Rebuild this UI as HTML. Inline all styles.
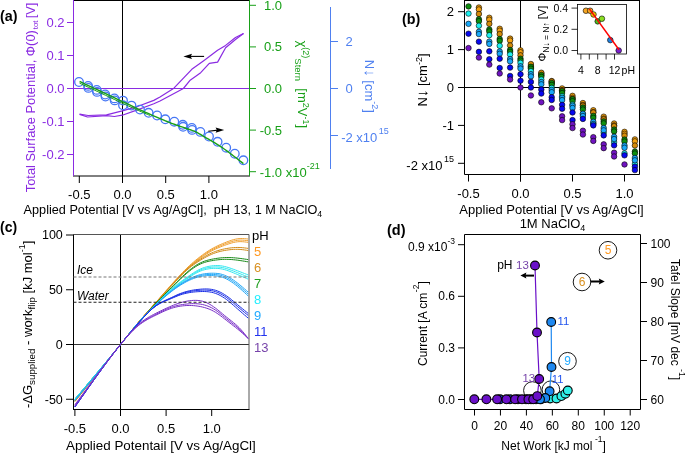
<!DOCTYPE html>
<html><head><meta charset="utf-8"><style>
html,body{margin:0;padding:0;background:#fff;}
svg{display:block;will-change:transform;}
text{font-family:"Liberation Sans", sans-serif;white-space:pre;}
</style></head><body>
<svg width="685" height="453" viewBox="0 0 685 453">
<rect width="685" height="453" fill="#fff"/>
<line x1="122.5" y1="0" x2="122.5" y2="176" stroke="#000" stroke-width="1"/>
<line x1="73.5" y1="88.5" x2="249.5" y2="88.5" stroke="#8a2be2" stroke-width="1"/>
<line x1="73.5" y1="0.5" x2="249.5" y2="0.5" stroke="#000" stroke-width="1"/>
<line x1="73.0" y1="176" x2="250.0" y2="176" stroke="#000" stroke-width="1"/>
<line x1="73.5" y1="0" x2="73.5" y2="176" stroke="#8a2be2" stroke-width="1"/>
<line x1="67" y1="22.5" x2="73.5" y2="22.5" stroke="#8a2be2" stroke-width="1"/>
<text x="64.5" y="27.0" font-size="13" fill="#8a2be2" text-anchor="end">0.2</text>
<line x1="67" y1="55.5" x2="73.5" y2="55.5" stroke="#8a2be2" stroke-width="1"/>
<text x="64.5" y="60.0" font-size="13" fill="#8a2be2" text-anchor="end">0.1</text>
<line x1="67" y1="88.5" x2="73.5" y2="88.5" stroke="#8a2be2" stroke-width="1"/>
<text x="64.5" y="93.0" font-size="13" fill="#8a2be2" text-anchor="end">0.0</text>
<line x1="67" y1="121.5" x2="73.5" y2="121.5" stroke="#8a2be2" stroke-width="1"/>
<text x="64.5" y="126.0" font-size="13" fill="#8a2be2" text-anchor="end">-0.1</text>
<line x1="67" y1="154.5" x2="73.5" y2="154.5" stroke="#8a2be2" stroke-width="1"/>
<text x="64.5" y="159.0" font-size="13" fill="#8a2be2" text-anchor="end">-0.2</text>
<line x1="79.3" y1="176" x2="79.3" y2="183" stroke="#000" stroke-width="1"/>
<text x="79.3" y="198.5" font-size="13" fill="#000" text-anchor="middle">-0.5</text>
<line x1="122.5" y1="176" x2="122.5" y2="183" stroke="#000" stroke-width="1"/>
<text x="122.5" y="198.5" font-size="13" fill="#000" text-anchor="middle">0.0</text>
<line x1="165.7" y1="176" x2="165.7" y2="183" stroke="#000" stroke-width="1"/>
<text x="165.7" y="198.5" font-size="13" fill="#000" text-anchor="middle">0.5</text>
<line x1="208.9" y1="176" x2="208.9" y2="183" stroke="#000" stroke-width="1"/>
<text x="208.9" y="198.5" font-size="13" fill="#000" text-anchor="middle">1.0</text>
<line x1="249.5" y1="0" x2="249.5" y2="176" stroke="#18a018" stroke-width="1"/>
<line x1="249.5" y1="5.299999999999997" x2="256" y2="5.299999999999997" stroke="#18a018" stroke-width="1"/>
<text x="264" y="9.799999999999997" font-size="13" fill="#18a018" text-anchor="start">1.0</text>
<line x1="249.5" y1="46.9" x2="256" y2="46.9" stroke="#18a018" stroke-width="1"/>
<text x="264" y="51.4" font-size="13" fill="#18a018" text-anchor="start">0.5</text>
<line x1="249.5" y1="88.5" x2="256" y2="88.5" stroke="#18a018" stroke-width="1"/>
<text x="264" y="93.0" font-size="13" fill="#18a018" text-anchor="start">0.0</text>
<line x1="249.5" y1="130.1" x2="256" y2="130.1" stroke="#18a018" stroke-width="1"/>
<text x="259.7" y="134.6" font-size="13" fill="#18a018" text-anchor="start">-0.5</text>
<line x1="249.5" y1="171.7" x2="256" y2="171.7" stroke="#18a018" stroke-width="1"/>
<text x="259.7" y="176.7" font-size="13" fill="#18a018" text-anchor="start">-1.0 x10<tspan dy="-7.5" font-size="9">-21</tspan></text>
<line x1="330.5" y1="7" x2="330.5" y2="169" stroke="#4f80f0" stroke-width="1"/>
<line x1="330.5" y1="41.5" x2="338" y2="41.5" stroke="#4f80f0" stroke-width="1"/>
<text x="345.5" y="46.0" font-size="13" fill="#4f80f0" text-anchor="start">2</text>
<line x1="330.5" y1="88.5" x2="338" y2="88.5" stroke="#4f80f0" stroke-width="1"/>
<text x="345.5" y="93.0" font-size="13" fill="#4f80f0" text-anchor="start">0</text>
<line x1="330.5" y1="135.5" x2="338" y2="135.5" stroke="#4f80f0" stroke-width="1"/>
<text x="341.2" y="141.5" font-size="13" fill="#4f80f0" text-anchor="start">-2 x10<tspan dx="1.5" dy="-8" font-size="9">15</tspan></text>
<polyline points="79.60,114.20 88.10,115.50 106.50,114.80 122.30,110.90 138.10,106.30 153.80,100.40 160.00,97.00 173.90,88.20 191.80,69.30 203.70,60.70 217.60,50.20 225.60,45.40 235.50,37.50 243.50,33.50" stroke="#8a2be2" stroke-width="1.2" fill="none" stroke-linejoin="round"/>
<polyline points="79.60,114.40 87.50,117.00 106.50,115.70 114.40,116.50 122.30,115.20 138.10,109.60 153.80,103.70 160.00,101.00 183.40,88.50 189.80,80.60 200.70,72.70 209.30,63.30 217.60,62.10 225.60,47.80 235.50,39.50 243.50,33.50" stroke="#8a2be2" stroke-width="1.2" fill="none" stroke-linejoin="round"/>
<circle cx="79.00" cy="82.00" r="4.3" fill="none" stroke="#4677f5" stroke-width="1.3"/>
<circle cx="88.10" cy="85.90" r="4.3" fill="none" stroke="#4677f5" stroke-width="1.3"/>
<circle cx="88.40" cy="87.90" r="4.3" fill="none" stroke="#4677f5" stroke-width="1.3"/>
<circle cx="96.70" cy="89.90" r="4.3" fill="none" stroke="#4677f5" stroke-width="1.3"/>
<circle cx="97.00" cy="91.90" r="4.3" fill="none" stroke="#4677f5" stroke-width="1.3"/>
<circle cx="105.20" cy="94.50" r="4.3" fill="none" stroke="#4677f5" stroke-width="1.3"/>
<circle cx="105.50" cy="96.50" r="4.3" fill="none" stroke="#4677f5" stroke-width="1.3"/>
<circle cx="114.40" cy="98.40" r="4.3" fill="none" stroke="#4677f5" stroke-width="1.3"/>
<circle cx="114.70" cy="100.40" r="4.3" fill="none" stroke="#4677f5" stroke-width="1.3"/>
<circle cx="123.00" cy="100.60" r="4.3" fill="none" stroke="#4677f5" stroke-width="1.3"/>
<circle cx="131.50" cy="105.60" r="4.3" fill="none" stroke="#4677f5" stroke-width="1.3"/>
<circle cx="140.00" cy="109.60" r="4.3" fill="none" stroke="#4677f5" stroke-width="1.3"/>
<circle cx="148.60" cy="112.80" r="4.3" fill="none" stroke="#4677f5" stroke-width="1.3"/>
<circle cx="157.10" cy="115.50" r="4.3" fill="none" stroke="#4677f5" stroke-width="1.3"/>
<circle cx="165.30" cy="119.30" r="4.3" fill="none" stroke="#4677f5" stroke-width="1.3"/>
<circle cx="174.30" cy="121.70" r="4.3" fill="none" stroke="#4677f5" stroke-width="1.3"/>
<circle cx="182.80" cy="124.80" r="4.3" fill="none" stroke="#4677f5" stroke-width="1.3"/>
<circle cx="183.10" cy="126.80" r="4.3" fill="none" stroke="#4677f5" stroke-width="1.3"/>
<circle cx="191.80" cy="127.90" r="4.3" fill="none" stroke="#4677f5" stroke-width="1.3"/>
<circle cx="192.10" cy="129.90" r="4.3" fill="none" stroke="#4677f5" stroke-width="1.3"/>
<circle cx="200.40" cy="131.90" r="4.3" fill="none" stroke="#4677f5" stroke-width="1.3"/>
<circle cx="209.00" cy="136.50" r="4.3" fill="none" stroke="#4677f5" stroke-width="1.3"/>
<circle cx="217.60" cy="141.80" r="4.3" fill="none" stroke="#4677f5" stroke-width="1.3"/>
<circle cx="226.20" cy="147.70" r="4.3" fill="none" stroke="#4677f5" stroke-width="1.3"/>
<circle cx="234.80" cy="153.70" r="4.3" fill="none" stroke="#4677f5" stroke-width="1.3"/>
<circle cx="243.40" cy="160.30" r="4.3" fill="none" stroke="#4677f5" stroke-width="1.3"/>
<circle cx="123.00" cy="105.30" r="4.3" fill="none" stroke="#4677f5" stroke-width="1.3"/>
<polyline points="79.60,81.50 81.16,82.22 83.20,83.18 85.64,84.31 88.36,85.58 91.26,86.92 94.24,88.31 97.19,89.69 100.00,91.00 102.79,92.31 105.71,93.67 108.70,95.08 111.71,96.49 114.70,97.90 117.61,99.27 120.39,100.58 123.00,101.80 125.39,102.93 127.60,103.98 129.68,104.97 131.69,105.92 133.67,106.86 135.68,107.81 137.77,108.78 140.00,109.80 142.40,110.89 144.95,112.03 147.58,113.20 150.24,114.37 152.87,115.52 155.41,116.63 157.80,117.66 160.00,118.60 161.97,119.43 163.78,120.19 165.44,120.87 167.02,121.51 168.54,122.12 170.05,122.71 171.59,123.29 173.20,123.90 174.89,124.52 176.61,125.13 178.36,125.73 180.09,126.32 181.80,126.89 183.45,127.45 185.03,127.99 186.50,128.50 187.85,128.97 189.11,129.39 190.28,129.78 191.41,130.16 192.50,130.54 193.58,130.94 194.67,131.39 195.80,131.90 196.96,132.48 198.14,133.11 199.31,133.78 200.48,134.47 201.64,135.18 202.79,135.88 203.91,136.56 205.00,137.20 206.05,137.80 207.05,138.37 208.03,138.92 208.99,139.46 209.96,140.01 210.94,140.57 211.95,141.17 213.00,141.80 214.10,142.47 215.24,143.16 216.40,143.88 217.57,144.62 218.76,145.37 219.95,146.14 221.13,146.92 222.30,147.70 223.44,148.48 224.54,149.26 225.64,150.04 226.74,150.84 227.86,151.67 229.01,152.53 230.22,153.44 231.50,154.40 232.94,155.49 234.56,156.74 236.29,158.07 238.03,159.42 239.69,160.71 241.20,161.89 242.46,162.87 243.40,163.60" stroke="#18a018" stroke-width="1.4" fill="none" stroke-linejoin="round"/>
<polyline points="79.60,83.20 81.16,83.92 83.20,84.88 85.64,86.01 88.36,87.28 91.26,88.62 94.24,90.01 97.19,91.39 100.00,92.70 102.79,94.01 105.71,95.38 108.70,96.79 111.71,98.21 114.70,99.62 117.61,100.99 120.39,102.29 123.00,103.50 125.46,104.63 127.84,105.72 130.12,106.76 132.31,107.76 134.40,108.70 136.38,109.59 138.25,110.42 140.00,111.20 141.65,111.93 143.23,112.61 144.70,113.25 146.06,113.83 147.29,114.35 148.37,114.81 149.28,115.19 150.00,115.50" stroke="#18a018" stroke-width="1.0" fill="none" stroke-linejoin="round"/>
<line x1="204.1" y1="56.4" x2="189.42000000000002" y2="56.4" stroke="#000" stroke-width="1.1"/>
<polygon points="183.4,56.4 192.0,53.8 190.71,56.4 192.0,59.0" fill="#000"/>
<line x1="208.3" y1="131.2" x2="218.17999999999998" y2="130.1" stroke="#000" stroke-width="1.1"/>
<polygon points="224.2,130.1 215.6,127.5 216.89,130.1 215.6,132.7" fill="#000"/>
<text x="0" y="21.4" font-size="14.3" fill="#000" text-anchor="start" font-weight="bold">(a)</text>
<text x="34.6" y="192.3" font-size="12.9" fill="#8a2be2" text-anchor="start" transform="rotate(-90 34.6 192.3)">Total Surface Potential, Φ(0)<tspan dx="0.8" dy="3" font-size="8">tot</tspan><tspan dx="-1.5" dy="-3"> [V]</tspan></text>
<text x="297.5" y="40.5" font-size="13" fill="#18a018" text-anchor="start" transform="rotate(90 297.5 40.5)">χ<tspan dy="-5" font-size="9">(2)</tspan><tspan dy="8" font-size="9.5">Stern</tspan><tspan dy="-3">  [m</tspan><tspan dy="-5" font-size="9">2</tspan><tspan dy="5">V</tspan><tspan dy="-5" font-size="9">-1</tspan><tspan dy="5">]</tspan></text>
<text x="365" y="59.8" font-size="13" fill="#4f80f0" text-anchor="start" transform="rotate(90 365 59.8)">N<tspan font-size="15">↓</tspan> [cm<tspan dy="-6.5" font-size="9">-2</tspan><tspan dy="6.5">]</tspan></text>
<text x="0" y="0" font-size="13" fill="#000" text-anchor="start" transform="translate(23.6 214.3) scale(0.976 1)">Applied Potential [V vs Ag/AgCl],  pH 13, 1 M NaClO<tspan dy="3" font-size="9">4</tspan></text>
<line x1="464.5" y1="87.5" x2="639.5" y2="87.5" stroke="#000" stroke-width="1"/>
<line x1="520.5" y1="0" x2="520.5" y2="181.5" stroke="#000" stroke-width="1"/>
<line x1="464.5" y1="0.5" x2="639.5" y2="0.5" stroke="#000" stroke-width="1"/>
<line x1="464.5" y1="0" x2="464.5" y2="174.5" stroke="#000" stroke-width="1"/>
<line x1="639.5" y1="0" x2="639.5" y2="174.5" stroke="#000" stroke-width="1"/>
<line x1="464.5" y1="174.5" x2="639.5" y2="174.5" stroke="#000" stroke-width="1"/>
<line x1="458" y1="11.700000000000003" x2="464.5" y2="11.700000000000003" stroke="#000" stroke-width="1"/>
<text x="454" y="16.200000000000003" font-size="13" fill="#000" text-anchor="end">2</text>
<line x1="458" y1="49.6" x2="464.5" y2="49.6" stroke="#000" stroke-width="1"/>
<text x="454" y="54.1" font-size="13" fill="#000" text-anchor="end">1</text>
<line x1="458" y1="87.5" x2="464.5" y2="87.5" stroke="#000" stroke-width="1"/>
<text x="454" y="92.0" font-size="13" fill="#000" text-anchor="end">0</text>
<line x1="458" y1="125.4" x2="464.5" y2="125.4" stroke="#000" stroke-width="1"/>
<text x="454" y="129.9" font-size="13" fill="#000" text-anchor="end">-1</text>
<line x1="458" y1="163.3" x2="464.5" y2="163.3" stroke="#000" stroke-width="1"/>
<text x="454" y="169.8" font-size="13" fill="#000" text-anchor="end">-2 x10<tspan dx="1.5" dy="-8" font-size="9">15</tspan></text>
<line x1="468.5" y1="174.5" x2="468.5" y2="181.5" stroke="#000" stroke-width="1"/>
<text x="468.5" y="197.5" font-size="13" fill="#000" text-anchor="middle">-0.5</text>
<line x1="520.5" y1="174.5" x2="520.5" y2="181.5" stroke="#000" stroke-width="1"/>
<text x="520.5" y="197.5" font-size="13" fill="#000" text-anchor="middle">0.0</text>
<line x1="572.5" y1="174.5" x2="572.5" y2="181.5" stroke="#000" stroke-width="1"/>
<text x="572.5" y="197.5" font-size="13" fill="#000" text-anchor="middle">0.5</text>
<line x1="624.5" y1="174.5" x2="624.5" y2="181.5" stroke="#000" stroke-width="1"/>
<text x="624.5" y="197.5" font-size="13" fill="#000" text-anchor="middle">1.0</text>
<text x="551.5" y="213.6" font-size="13" fill="#000" text-anchor="middle">Applied Potential [V vs Ag/AgCl]</text>
<text x="552.5" y="228.4" font-size="13" fill="#000" text-anchor="middle">1M NaClO<tspan dy="3" font-size="9">4</tspan></text>
<text x="402" y="24" font-size="14.3" fill="#000" text-anchor="start" font-weight="bold">(b)</text>
<text x="427" y="106.5" font-size="13" fill="#000" text-anchor="start" transform="rotate(-90 427 106.5)">N<tspan font-size="15">↓</tspan> [cm<tspan dy="-5" font-size="9">-2</tspan><tspan dy="5">]</tspan></text>
<circle cx="478.90" cy="7.53" r="2.75" fill="#f5a20f" stroke="#000" stroke-width="0.6"/>
<circle cx="478.90" cy="9.43" r="2.75" fill="#f5a20f" stroke="#000" stroke-width="0.6"/>
<circle cx="489.30" cy="17.76" r="2.75" fill="#f5a20f" stroke="#000" stroke-width="0.6"/>
<circle cx="489.30" cy="19.66" r="2.75" fill="#f5a20f" stroke="#000" stroke-width="0.6"/>
<circle cx="499.70" cy="28.76" r="2.75" fill="#f5a20f" stroke="#000" stroke-width="0.6"/>
<circle cx="499.70" cy="30.65" r="2.75" fill="#f5a20f" stroke="#000" stroke-width="0.6"/>
<circle cx="510.10" cy="38.61" r="2.75" fill="#f5a20f" stroke="#000" stroke-width="0.6"/>
<circle cx="510.10" cy="40.50" r="2.75" fill="#f5a20f" stroke="#000" stroke-width="0.6"/>
<circle cx="520.50" cy="50.36" r="2.75" fill="#f5a20f" stroke="#000" stroke-width="0.6"/>
<circle cx="520.50" cy="52.25" r="2.75" fill="#f5a20f" stroke="#000" stroke-width="0.6"/>
<circle cx="530.90" cy="65.90" r="2.75" fill="#f5a20f" stroke="#000" stroke-width="0.6"/>
<circle cx="530.90" cy="67.79" r="2.75" fill="#f5a20f" stroke="#000" stroke-width="0.6"/>
<circle cx="541.30" cy="73.48" r="2.75" fill="#f5a20f" stroke="#000" stroke-width="0.6"/>
<circle cx="541.30" cy="75.37" r="2.75" fill="#f5a20f" stroke="#000" stroke-width="0.6"/>
<circle cx="551.70" cy="81.06" r="2.75" fill="#f5a20f" stroke="#000" stroke-width="0.6"/>
<circle cx="551.70" cy="82.95" r="2.75" fill="#f5a20f" stroke="#000" stroke-width="0.6"/>
<circle cx="562.10" cy="88.45" r="2.75" fill="#f5a20f" stroke="#000" stroke-width="0.6"/>
<circle cx="562.10" cy="90.34" r="2.75" fill="#f5a20f" stroke="#000" stroke-width="0.6"/>
<circle cx="572.50" cy="95.84" r="2.75" fill="#f5a20f" stroke="#000" stroke-width="0.6"/>
<circle cx="572.50" cy="97.73" r="2.75" fill="#f5a20f" stroke="#000" stroke-width="0.6"/>
<circle cx="582.90" cy="103.04" r="2.75" fill="#f5a20f" stroke="#000" stroke-width="0.6"/>
<circle cx="582.90" cy="104.93" r="2.75" fill="#f5a20f" stroke="#000" stroke-width="0.6"/>
<circle cx="593.30" cy="110.24" r="2.75" fill="#f5a20f" stroke="#000" stroke-width="0.6"/>
<circle cx="593.30" cy="112.14" r="2.75" fill="#f5a20f" stroke="#000" stroke-width="0.6"/>
<circle cx="603.70" cy="116.68" r="2.75" fill="#f5a20f" stroke="#000" stroke-width="0.6"/>
<circle cx="603.70" cy="118.58" r="2.75" fill="#f5a20f" stroke="#000" stroke-width="0.6"/>
<circle cx="614.10" cy="123.50" r="2.75" fill="#f5a20f" stroke="#000" stroke-width="0.6"/>
<circle cx="614.10" cy="125.40" r="2.75" fill="#f5a20f" stroke="#000" stroke-width="0.6"/>
<circle cx="624.50" cy="131.84" r="2.75" fill="#f5a20f" stroke="#000" stroke-width="0.6"/>
<circle cx="624.50" cy="133.74" r="2.75" fill="#f5a20f" stroke="#000" stroke-width="0.6"/>
<circle cx="634.90" cy="139.42" r="2.75" fill="#f5a20f" stroke="#000" stroke-width="0.6"/>
<circle cx="634.90" cy="141.32" r="2.75" fill="#f5a20f" stroke="#000" stroke-width="0.6"/>
<circle cx="478.90" cy="13.97" r="2.75" fill="#d48a0a" stroke="#000" stroke-width="0.6"/>
<circle cx="489.30" cy="23.83" r="2.75" fill="#d48a0a" stroke="#000" stroke-width="0.6"/>
<circle cx="499.70" cy="34.06" r="2.75" fill="#d48a0a" stroke="#000" stroke-width="0.6"/>
<circle cx="510.10" cy="45.43" r="2.75" fill="#d48a0a" stroke="#000" stroke-width="0.6"/>
<circle cx="520.50" cy="55.29" r="2.75" fill="#d48a0a" stroke="#000" stroke-width="0.6"/>
<circle cx="530.90" cy="64.00" r="2.75" fill="#d48a0a" stroke="#000" stroke-width="0.6"/>
<circle cx="541.30" cy="72.72" r="2.75" fill="#d48a0a" stroke="#000" stroke-width="0.6"/>
<circle cx="551.70" cy="81.44" r="2.75" fill="#d48a0a" stroke="#000" stroke-width="0.6"/>
<circle cx="562.10" cy="90.15" r="2.75" fill="#d48a0a" stroke="#000" stroke-width="0.6"/>
<circle cx="572.50" cy="98.87" r="2.75" fill="#d48a0a" stroke="#000" stroke-width="0.6"/>
<circle cx="582.90" cy="105.69" r="2.75" fill="#d48a0a" stroke="#000" stroke-width="0.6"/>
<circle cx="593.30" cy="112.51" r="2.75" fill="#d48a0a" stroke="#000" stroke-width="0.6"/>
<circle cx="603.70" cy="119.34" r="2.75" fill="#d48a0a" stroke="#000" stroke-width="0.6"/>
<circle cx="614.10" cy="126.16" r="2.75" fill="#d48a0a" stroke="#000" stroke-width="0.6"/>
<circle cx="624.50" cy="135.63" r="2.75" fill="#d48a0a" stroke="#000" stroke-width="0.6"/>
<circle cx="634.90" cy="145.49" r="2.75" fill="#d48a0a" stroke="#000" stroke-width="0.6"/>
<circle cx="468.50" cy="6.39" r="2.75" fill="#0f8f0f" stroke="#000" stroke-width="0.6"/>
<circle cx="478.90" cy="19.28" r="2.75" fill="#0f8f0f" stroke="#000" stroke-width="0.6"/>
<circle cx="478.90" cy="21.17" r="2.75" fill="#0f8f0f" stroke="#000" stroke-width="0.6"/>
<circle cx="489.30" cy="29.51" r="2.75" fill="#0f8f0f" stroke="#000" stroke-width="0.6"/>
<circle cx="489.30" cy="31.41" r="2.75" fill="#0f8f0f" stroke="#000" stroke-width="0.6"/>
<circle cx="499.70" cy="38.99" r="2.75" fill="#0f8f0f" stroke="#000" stroke-width="0.6"/>
<circle cx="499.70" cy="40.88" r="2.75" fill="#0f8f0f" stroke="#000" stroke-width="0.6"/>
<circle cx="510.10" cy="49.98" r="2.75" fill="#0f8f0f" stroke="#000" stroke-width="0.6"/>
<circle cx="510.10" cy="51.87" r="2.75" fill="#0f8f0f" stroke="#000" stroke-width="0.6"/>
<circle cx="520.50" cy="58.70" r="2.75" fill="#0f8f0f" stroke="#000" stroke-width="0.6"/>
<circle cx="520.50" cy="60.59" r="2.75" fill="#0f8f0f" stroke="#000" stroke-width="0.6"/>
<circle cx="530.90" cy="66.81" r="2.75" fill="#0f8f0f" stroke="#000" stroke-width="0.6"/>
<circle cx="530.90" cy="68.70" r="2.75" fill="#0f8f0f" stroke="#000" stroke-width="0.6"/>
<circle cx="541.30" cy="74.92" r="2.75" fill="#0f8f0f" stroke="#000" stroke-width="0.6"/>
<circle cx="541.30" cy="76.81" r="2.75" fill="#0f8f0f" stroke="#000" stroke-width="0.6"/>
<circle cx="551.70" cy="83.03" r="2.75" fill="#0f8f0f" stroke="#000" stroke-width="0.6"/>
<circle cx="551.70" cy="84.92" r="2.75" fill="#0f8f0f" stroke="#000" stroke-width="0.6"/>
<circle cx="562.10" cy="91.14" r="2.75" fill="#0f8f0f" stroke="#000" stroke-width="0.6"/>
<circle cx="562.10" cy="93.03" r="2.75" fill="#0f8f0f" stroke="#000" stroke-width="0.6"/>
<circle cx="572.50" cy="99.25" r="2.75" fill="#0f8f0f" stroke="#000" stroke-width="0.6"/>
<circle cx="572.50" cy="101.14" r="2.75" fill="#0f8f0f" stroke="#000" stroke-width="0.6"/>
<circle cx="582.90" cy="107.59" r="2.75" fill="#0f8f0f" stroke="#000" stroke-width="0.6"/>
<circle cx="582.90" cy="109.48" r="2.75" fill="#0f8f0f" stroke="#000" stroke-width="0.6"/>
<circle cx="593.30" cy="115.92" r="2.75" fill="#0f8f0f" stroke="#000" stroke-width="0.6"/>
<circle cx="593.30" cy="117.82" r="2.75" fill="#0f8f0f" stroke="#000" stroke-width="0.6"/>
<circle cx="603.70" cy="121.42" r="2.75" fill="#0f8f0f" stroke="#000" stroke-width="0.6"/>
<circle cx="603.70" cy="123.32" r="2.75" fill="#0f8f0f" stroke="#000" stroke-width="0.6"/>
<circle cx="614.10" cy="129.57" r="2.75" fill="#0f8f0f" stroke="#000" stroke-width="0.6"/>
<circle cx="614.10" cy="131.46" r="2.75" fill="#0f8f0f" stroke="#000" stroke-width="0.6"/>
<circle cx="624.50" cy="139.61" r="2.75" fill="#0f8f0f" stroke="#000" stroke-width="0.6"/>
<circle cx="624.50" cy="141.51" r="2.75" fill="#0f8f0f" stroke="#000" stroke-width="0.6"/>
<circle cx="634.90" cy="151.55" r="2.75" fill="#0f8f0f" stroke="#000" stroke-width="0.6"/>
<circle cx="634.90" cy="153.45" r="2.75" fill="#0f8f0f" stroke="#000" stroke-width="0.6"/>
<circle cx="468.50" cy="13.59" r="2.75" fill="#1ef0f0" stroke="#000" stroke-width="0.6"/>
<circle cx="478.90" cy="25.72" r="2.75" fill="#1ef0f0" stroke="#000" stroke-width="0.6"/>
<circle cx="489.30" cy="35.20" r="2.75" fill="#1ef0f0" stroke="#000" stroke-width="0.6"/>
<circle cx="499.70" cy="45.81" r="2.75" fill="#1ef0f0" stroke="#000" stroke-width="0.6"/>
<circle cx="510.10" cy="54.53" r="2.75" fill="#1ef0f0" stroke="#000" stroke-width="0.6"/>
<circle cx="520.50" cy="62.86" r="2.75" fill="#1ef0f0" stroke="#000" stroke-width="0.6"/>
<circle cx="530.90" cy="71.20" r="2.75" fill="#1ef0f0" stroke="#000" stroke-width="0.6"/>
<circle cx="541.30" cy="79.54" r="2.75" fill="#1ef0f0" stroke="#000" stroke-width="0.6"/>
<circle cx="551.70" cy="87.88" r="2.75" fill="#1ef0f0" stroke="#000" stroke-width="0.6"/>
<circle cx="562.10" cy="96.22" r="2.75" fill="#1ef0f0" stroke="#000" stroke-width="0.6"/>
<circle cx="572.50" cy="104.56" r="2.75" fill="#1ef0f0" stroke="#000" stroke-width="0.6"/>
<circle cx="582.90" cy="113.94" r="2.75" fill="#1ef0f0" stroke="#000" stroke-width="0.6"/>
<circle cx="593.30" cy="123.32" r="2.75" fill="#1ef0f0" stroke="#000" stroke-width="0.6"/>
<circle cx="603.70" cy="132.70" r="2.75" fill="#1ef0f0" stroke="#000" stroke-width="0.6"/>
<circle cx="614.10" cy="142.08" r="2.75" fill="#1ef0f0" stroke="#000" stroke-width="0.6"/>
<circle cx="624.50" cy="153.45" r="2.75" fill="#1ef0f0" stroke="#000" stroke-width="0.6"/>
<circle cx="634.90" cy="164.06" r="2.75" fill="#1ef0f0" stroke="#000" stroke-width="0.6"/>
<circle cx="468.50" cy="23.83" r="2.75" fill="#18a8f8" stroke="#000" stroke-width="0.6"/>
<circle cx="478.90" cy="31.79" r="2.75" fill="#18a8f8" stroke="#000" stroke-width="0.6"/>
<circle cx="478.90" cy="34.06" r="2.75" fill="#18a8f8" stroke="#000" stroke-width="0.6"/>
<circle cx="489.30" cy="41.64" r="2.75" fill="#18a8f8" stroke="#000" stroke-width="0.6"/>
<circle cx="489.30" cy="43.92" r="2.75" fill="#18a8f8" stroke="#000" stroke-width="0.6"/>
<circle cx="499.70" cy="51.50" r="2.75" fill="#18a8f8" stroke="#000" stroke-width="0.6"/>
<circle cx="499.70" cy="53.77" r="2.75" fill="#18a8f8" stroke="#000" stroke-width="0.6"/>
<circle cx="510.10" cy="59.08" r="2.75" fill="#18a8f8" stroke="#000" stroke-width="0.6"/>
<circle cx="510.10" cy="61.35" r="2.75" fill="#18a8f8" stroke="#000" stroke-width="0.6"/>
<circle cx="520.50" cy="66.28" r="2.75" fill="#18a8f8" stroke="#000" stroke-width="0.6"/>
<circle cx="520.50" cy="68.55" r="2.75" fill="#18a8f8" stroke="#000" stroke-width="0.6"/>
<circle cx="530.90" cy="74.16" r="2.75" fill="#18a8f8" stroke="#000" stroke-width="0.6"/>
<circle cx="530.90" cy="76.43" r="2.75" fill="#18a8f8" stroke="#000" stroke-width="0.6"/>
<circle cx="541.30" cy="82.04" r="2.75" fill="#18a8f8" stroke="#000" stroke-width="0.6"/>
<circle cx="541.30" cy="84.32" r="2.75" fill="#18a8f8" stroke="#000" stroke-width="0.6"/>
<circle cx="551.70" cy="89.93" r="2.75" fill="#18a8f8" stroke="#000" stroke-width="0.6"/>
<circle cx="551.70" cy="92.20" r="2.75" fill="#18a8f8" stroke="#000" stroke-width="0.6"/>
<circle cx="562.10" cy="97.81" r="2.75" fill="#18a8f8" stroke="#000" stroke-width="0.6"/>
<circle cx="562.10" cy="100.08" r="2.75" fill="#18a8f8" stroke="#000" stroke-width="0.6"/>
<circle cx="572.50" cy="105.69" r="2.75" fill="#18a8f8" stroke="#000" stroke-width="0.6"/>
<circle cx="572.50" cy="107.97" r="2.75" fill="#18a8f8" stroke="#000" stroke-width="0.6"/>
<circle cx="582.90" cy="113.75" r="2.75" fill="#18a8f8" stroke="#000" stroke-width="0.6"/>
<circle cx="582.90" cy="116.02" r="2.75" fill="#18a8f8" stroke="#000" stroke-width="0.6"/>
<circle cx="593.30" cy="121.80" r="2.75" fill="#18a8f8" stroke="#000" stroke-width="0.6"/>
<circle cx="593.30" cy="124.07" r="2.75" fill="#18a8f8" stroke="#000" stroke-width="0.6"/>
<circle cx="603.70" cy="128.05" r="2.75" fill="#18a8f8" stroke="#000" stroke-width="0.6"/>
<circle cx="603.70" cy="130.33" r="2.75" fill="#18a8f8" stroke="#000" stroke-width="0.6"/>
<circle cx="614.10" cy="136.77" r="2.75" fill="#18a8f8" stroke="#000" stroke-width="0.6"/>
<circle cx="614.10" cy="139.04" r="2.75" fill="#18a8f8" stroke="#000" stroke-width="0.6"/>
<circle cx="624.50" cy="145.49" r="2.75" fill="#18a8f8" stroke="#000" stroke-width="0.6"/>
<circle cx="624.50" cy="147.76" r="2.75" fill="#18a8f8" stroke="#000" stroke-width="0.6"/>
<circle cx="634.90" cy="157.99" r="2.75" fill="#18a8f8" stroke="#000" stroke-width="0.6"/>
<circle cx="634.90" cy="160.27" r="2.75" fill="#18a8f8" stroke="#000" stroke-width="0.6"/>
<circle cx="468.50" cy="33.68" r="2.75" fill="#0808f0" stroke="#000" stroke-width="0.6"/>
<circle cx="478.90" cy="41.64" r="2.75" fill="#0808f0" stroke="#000" stroke-width="0.6"/>
<circle cx="489.30" cy="51.31" r="2.75" fill="#0808f0" stroke="#000" stroke-width="0.6"/>
<circle cx="499.70" cy="58.70" r="2.75" fill="#0808f0" stroke="#000" stroke-width="0.6"/>
<circle cx="510.10" cy="67.60" r="2.75" fill="#0808f0" stroke="#000" stroke-width="0.6"/>
<circle cx="520.50" cy="74.23" r="2.75" fill="#0808f0" stroke="#000" stroke-width="0.6"/>
<circle cx="530.90" cy="81.89" r="2.75" fill="#0808f0" stroke="#000" stroke-width="0.6"/>
<circle cx="541.30" cy="89.55" r="2.75" fill="#0808f0" stroke="#000" stroke-width="0.6"/>
<circle cx="551.70" cy="97.20" r="2.75" fill="#0808f0" stroke="#000" stroke-width="0.6"/>
<circle cx="562.10" cy="104.86" r="2.75" fill="#0808f0" stroke="#000" stroke-width="0.6"/>
<circle cx="572.50" cy="112.51" r="2.75" fill="#0808f0" stroke="#000" stroke-width="0.6"/>
<circle cx="582.90" cy="118.96" r="2.75" fill="#0808f0" stroke="#000" stroke-width="0.6"/>
<circle cx="593.30" cy="125.40" r="2.75" fill="#0808f0" stroke="#000" stroke-width="0.6"/>
<circle cx="603.70" cy="135.38" r="2.75" fill="#0808f0" stroke="#000" stroke-width="0.6"/>
<circle cx="614.10" cy="145.36" r="2.75" fill="#0808f0" stroke="#000" stroke-width="0.6"/>
<circle cx="624.50" cy="155.34" r="2.75" fill="#0808f0" stroke="#000" stroke-width="0.6"/>
<circle cx="634.90" cy="166.71" r="2.75" fill="#0808f0" stroke="#000" stroke-width="0.6"/>
<circle cx="478.90" cy="51.87" r="2.75" fill="#0808f0" stroke="#000" stroke-width="0.6"/>
<circle cx="489.30" cy="59.23" r="2.75" fill="#0808f0" stroke="#000" stroke-width="0.6"/>
<circle cx="499.70" cy="67.98" r="2.75" fill="#0808f0" stroke="#000" stroke-width="0.6"/>
<circle cx="510.10" cy="75.94" r="2.75" fill="#0808f0" stroke="#000" stroke-width="0.6"/>
<circle cx="520.50" cy="80.68" r="2.75" fill="#0808f0" stroke="#000" stroke-width="0.6"/>
<circle cx="530.90" cy="87.50" r="2.75" fill="#0808f0" stroke="#000" stroke-width="0.6"/>
<circle cx="541.30" cy="93.56" r="2.75" fill="#0808f0" stroke="#000" stroke-width="0.6"/>
<circle cx="551.70" cy="100.01" r="2.75" fill="#0808f0" stroke="#000" stroke-width="0.6"/>
<circle cx="562.10" cy="108.72" r="2.75" fill="#0808f0" stroke="#000" stroke-width="0.6"/>
<circle cx="572.50" cy="120.09" r="2.75" fill="#0808f0" stroke="#000" stroke-width="0.6"/>
<circle cx="634.90" cy="170.12" r="2.75" fill="#0808f0" stroke="#000" stroke-width="0.6"/>
<circle cx="468.50" cy="48.08" r="2.75" fill="#7014c0" stroke="#000" stroke-width="0.6"/>
<circle cx="478.90" cy="57.56" r="2.75" fill="#7014c0" stroke="#000" stroke-width="0.6"/>
<circle cx="489.30" cy="64.61" r="2.75" fill="#7014c0" stroke="#000" stroke-width="0.6"/>
<circle cx="499.70" cy="73.51" r="2.75" fill="#7014c0" stroke="#000" stroke-width="0.6"/>
<circle cx="510.10" cy="79.50" r="2.75" fill="#7014c0" stroke="#000" stroke-width="0.6"/>
<circle cx="520.50" cy="87.50" r="2.75" fill="#7014c0" stroke="#000" stroke-width="0.6"/>
<circle cx="530.90" cy="95.46" r="2.75" fill="#7014c0" stroke="#000" stroke-width="0.6"/>
<circle cx="541.30" cy="102.28" r="2.75" fill="#7014c0" stroke="#000" stroke-width="0.6"/>
<circle cx="551.70" cy="108.34" r="2.75" fill="#7014c0" stroke="#000" stroke-width="0.6"/>
<circle cx="562.10" cy="116.30" r="2.75" fill="#7014c0" stroke="#000" stroke-width="0.6"/>
<circle cx="562.10" cy="120.09" r="2.75" fill="#7014c0" stroke="#000" stroke-width="0.6"/>
<circle cx="572.50" cy="124.26" r="2.75" fill="#7014c0" stroke="#000" stroke-width="0.6"/>
<circle cx="572.50" cy="128.05" r="2.75" fill="#7014c0" stroke="#000" stroke-width="0.6"/>
<circle cx="582.90" cy="130.71" r="2.75" fill="#7014c0" stroke="#000" stroke-width="0.6"/>
<circle cx="582.90" cy="134.50" r="2.75" fill="#7014c0" stroke="#000" stroke-width="0.6"/>
<circle cx="593.30" cy="137.15" r="2.75" fill="#7014c0" stroke="#000" stroke-width="0.6"/>
<circle cx="593.30" cy="140.94" r="2.75" fill="#7014c0" stroke="#000" stroke-width="0.6"/>
<circle cx="603.70" cy="144.35" r="2.75" fill="#7014c0" stroke="#000" stroke-width="0.6"/>
<circle cx="603.70" cy="148.14" r="2.75" fill="#7014c0" stroke="#000" stroke-width="0.6"/>
<circle cx="614.10" cy="152.69" r="2.75" fill="#7014c0" stroke="#000" stroke-width="0.6"/>
<circle cx="614.10" cy="156.48" r="2.75" fill="#7014c0" stroke="#000" stroke-width="0.6"/>
<circle cx="624.50" cy="164.44" r="2.75" fill="#7014c0" stroke="#000" stroke-width="0.6"/>
<rect x="577.5" y="4.5" width="49.0" height="49.5" fill="#fff" stroke="#000" stroke-width="0.8"/>
<line x1="571.5" y1="8.099999999999994" x2="577.5" y2="8.099999999999994" stroke="#000" stroke-width="0.8"/>
<text x="568" y="11.799999999999994" font-size="10.5" fill="#000" text-anchor="end">0.4</text>
<line x1="571.5" y1="29.299999999999997" x2="577.5" y2="29.299999999999997" stroke="#000" stroke-width="0.8"/>
<text x="568" y="33.0" font-size="10.5" fill="#000" text-anchor="end">0.2</text>
<line x1="571.5" y1="50.5" x2="577.5" y2="50.5" stroke="#000" stroke-width="0.8"/>
<text x="568" y="54.2" font-size="10.5" fill="#000" text-anchor="end">0.0</text>
<line x1="580.9" y1="54" x2="580.9" y2="59.5" stroke="#000" stroke-width="0.8"/>
<line x1="589.3" y1="54" x2="589.3" y2="59.5" stroke="#000" stroke-width="0.8"/>
<line x1="597.6999999999999" y1="54" x2="597.6999999999999" y2="59.5" stroke="#000" stroke-width="0.8"/>
<line x1="606.1" y1="54" x2="606.1" y2="59.5" stroke="#000" stroke-width="0.8"/>
<line x1="614.5" y1="54" x2="614.5" y2="59.5" stroke="#000" stroke-width="0.8"/>
<text x="580.9" y="74.2" font-size="10.5" fill="#000" text-anchor="middle">4</text>
<text x="597.6999999999999" y="74.2" font-size="10.5" fill="#000" text-anchor="middle">8</text>
<text x="614.5" y="74.2" font-size="10.5" fill="#000" text-anchor="middle">12</text>
<text x="621.6" y="74.2" font-size="10.5" fill="#000" text-anchor="start">pH</text>
<circle cx="585.94" cy="10.75" r="2.8" fill="#f5a623" stroke="#000" stroke-width="0.6"/>
<circle cx="590.14" cy="10.75" r="2.8" fill="#f5a623" stroke="#000" stroke-width="0.6"/>
<circle cx="593.50" cy="14.46" r="2.8" fill="#e8c000" stroke="#000" stroke-width="0.6"/>
<circle cx="597.70" cy="21.35" r="2.8" fill="#4cbb22" stroke="#000" stroke-width="0.6"/>
<circle cx="601.90" cy="18.70" r="2.8" fill="#88dd22" stroke="#000" stroke-width="0.6"/>
<circle cx="610.30" cy="40.11" r="2.8" fill="#1e80e0" stroke="#000" stroke-width="0.6"/>
<circle cx="618.70" cy="50.50" r="2.8" fill="#7a20d0" stroke="#000" stroke-width="0.6"/>
<line x1="589.4" y1="8.9" x2="619" y2="49.7" stroke="#f00" stroke-width="1.5"/>
<text x="546" y="61.5" font-size="11" fill="#000" text-anchor="start" transform="rotate(-90 546 61.5)">Φ<tspan dy="3" font-size="8.5">N↓ = N↑</tspan><tspan dy="-3"> [V]</tspan></text>
<line x1="73.5" y1="344.5" x2="249" y2="344.5" stroke="#333" stroke-width="1"/>
<line x1="120.5" y1="234.5" x2="120.5" y2="409.5" stroke="#000" stroke-width="1"/>
<line x1="73.5" y1="234.5" x2="249" y2="234.5" stroke="#555" stroke-width="1"/>
<line x1="249" y1="234.5" x2="249" y2="409.5" stroke="#555" stroke-width="1"/>
<line x1="73.5" y1="234.5" x2="73.5" y2="409.5" stroke="#000" stroke-width="1"/>
<line x1="73.0" y1="409.5" x2="249.5" y2="409.5" stroke="#000" stroke-width="1"/>
<line x1="66" y1="235.0" x2="73.5" y2="235.0" stroke="#000" stroke-width="1"/>
<text x="62.8" y="239.3" font-size="12.5" fill="#000" text-anchor="end">100</text>
<line x1="66" y1="289.75" x2="73.5" y2="289.75" stroke="#000" stroke-width="1"/>
<text x="62.8" y="294.05" font-size="12.5" fill="#000" text-anchor="end">50</text>
<line x1="66" y1="344.5" x2="73.5" y2="344.5" stroke="#000" stroke-width="1"/>
<text x="62.8" y="348.8" font-size="12.5" fill="#000" text-anchor="end">0</text>
<line x1="66" y1="399.25" x2="73.5" y2="399.25" stroke="#000" stroke-width="1"/>
<text x="62.8" y="403.55" font-size="12.5" fill="#000" text-anchor="end">-50</text>
<line x1="74.9" y1="409.5" x2="74.9" y2="416" stroke="#000" stroke-width="1"/>
<text x="74.9" y="432.5" font-size="13" fill="#000" text-anchor="middle">-0.5</text>
<line x1="120.5" y1="409.5" x2="120.5" y2="416" stroke="#000" stroke-width="1"/>
<text x="120.5" y="432.5" font-size="13" fill="#000" text-anchor="middle">0.0</text>
<line x1="166.1" y1="409.5" x2="166.1" y2="416" stroke="#000" stroke-width="1"/>
<text x="166.1" y="432.5" font-size="13" fill="#000" text-anchor="middle">0.5</text>
<line x1="211.7" y1="409.5" x2="211.7" y2="416" stroke="#000" stroke-width="1"/>
<text x="211.7" y="432.5" font-size="13" fill="#000" text-anchor="middle">1.0</text>
<text x="77" y="274" font-size="12" fill="#000" text-anchor="start" font-style="italic">Ice</text>
<text x="77" y="300" font-size="12" fill="#000" text-anchor="start" font-style="italic">Water</text>
<text x="0" y="232" font-size="14" fill="#000" text-anchor="start" font-weight="bold">(c)</text>
<text x="66" y="449.9" font-size="13.4" fill="#000" text-anchor="start">Applied Potentail [V vs Ag/AgCl]</text>
<text x="31.5" y="408" font-size="13" fill="#000" text-anchor="start" transform="rotate(-90 31.5 408)">-ΔG<tspan dy="3" font-size="9.75">supplied</tspan><tspan dy="-3"> - work</tspan><tspan dy="3" font-size="9.75">flip</tspan><tspan dy="-3"> [kJ mol</tspan><tspan dy="-6.5" font-size="9">-1</tspan><tspan dy="6.5">]</tspan></text>
<text x="252" y="239.5" font-size="13" fill="#000" text-anchor="start">pH</text>
<text x="254" y="255.5" font-size="13" fill="#ff9922" text-anchor="start">5</text>
<text x="254" y="271.7" font-size="13" fill="#d89020" text-anchor="start">6</text>
<text x="254" y="287.8" font-size="13" fill="#22a022" text-anchor="start">7</text>
<text x="254" y="304.0" font-size="13" fill="#22eeff" text-anchor="start">8</text>
<text x="254" y="320.1" font-size="13" fill="#22aaff" text-anchor="start">9</text>
<text x="254" y="336.3" font-size="13" fill="#2233ee" text-anchor="start">11</text>
<text x="254" y="352.4" font-size="13" fill="#7744aa" text-anchor="start">13</text>
<polyline points="74.90,400.35 76.72,398.13 78.55,395.92 80.37,393.70 82.20,391.49 84.02,389.27 85.84,387.06 87.67,384.84 89.49,382.62 91.32,380.40 93.14,378.18 94.96,375.95 96.79,373.73 98.61,371.50 100.44,369.27 102.26,367.03 104.08,364.80 105.91,362.56 107.73,360.31 109.56,358.07 111.38,355.82 113.20,353.56 115.03,351.30 116.85,349.04 118.68,346.77 120.50,344.50 122.32,342.22 124.15,339.95 125.97,337.67 127.80,335.40 129.62,333.13 131.44,330.88 133.27,328.64 135.09,326.42 136.92,324.23 138.74,322.05 140.56,319.90 142.39,317.78 144.21,315.68 146.04,313.59 147.86,311.52 149.68,309.46 151.51,307.41 153.33,305.34 155.16,303.25 156.98,301.17 158.80,299.07 160.63,296.98 162.45,294.88 164.28,292.78 166.10,290.68 167.92,288.59 169.75,286.51 171.57,284.45 173.40,282.39 175.22,280.35 177.04,278.34 178.87,276.36 180.69,274.40 182.52,272.49 184.34,270.63 186.16,268.81 187.99,267.05 189.81,265.35 191.64,263.70 193.46,262.11 195.28,260.56 197.11,259.07 198.93,257.62 200.76,256.22 202.58,254.87 204.40,253.56 206.23,252.31 208.05,251.11 209.88,249.97 211.70,248.89 213.52,247.87 215.35,246.92 217.17,246.02 219.00,245.17 220.82,244.36 222.64,243.59 224.47,242.85 226.29,242.14 228.12,241.44 229.94,240.78 231.76,240.18 233.59,239.64 235.41,239.19 237.24,238.85 239.06,238.63 240.88,238.54 242.71,238.56 244.53,238.66 246.36,238.82 248.18,239.01" stroke="#f0a030" stroke-width="1.0" fill="none" stroke-linejoin="round"/>
<polyline points="74.90,400.35 76.72,398.13 78.55,395.92 80.37,393.70 82.20,391.49 84.02,389.27 85.84,387.06 87.67,384.84 89.49,382.62 91.32,380.40 93.14,378.18 94.96,375.95 96.79,373.73 98.61,371.50 100.44,369.27 102.26,367.03 104.08,364.80 105.91,362.56 107.73,360.31 109.56,358.07 111.38,355.82 113.20,353.56 115.03,351.30 116.85,349.04 118.68,346.77 120.50,344.50 122.32,342.22 124.15,339.95 125.97,337.67 127.80,335.40 129.62,333.13 131.44,330.88 133.27,328.64 135.09,326.42 136.92,324.23 138.74,322.05 140.56,319.90 142.39,317.78 144.21,315.68 146.04,313.59 147.86,311.52 149.68,309.46 151.51,307.41 153.33,305.35 155.16,303.30 156.98,301.25 158.80,299.19 160.63,297.12 162.45,295.05 164.28,292.99 166.10,290.92 167.92,288.87 169.75,286.82 171.57,284.78 173.40,282.76 175.22,280.75 177.04,278.77 178.87,276.82 180.69,274.90 182.52,273.02 184.34,271.19 186.16,269.40 187.99,267.68 189.81,266.01 191.64,264.39 193.46,262.83 195.28,261.32 197.11,259.85 198.93,258.44 200.76,257.07 202.58,255.75 204.40,254.48 206.23,253.25 208.05,252.09 209.88,250.98 211.70,249.93 213.52,248.95 215.35,248.02 217.17,247.15 219.00,246.34 220.82,245.56 222.64,244.82 224.47,244.11 226.29,243.43 228.12,242.77 229.94,242.14 231.76,241.57 233.59,241.07 235.41,240.65 237.24,240.34 239.06,240.15 240.88,240.09 242.71,240.14 244.53,240.28 246.36,240.47 248.18,240.69" stroke="#f0a030" stroke-width="1.0" fill="none" stroke-linejoin="round"/>
<polyline points="74.90,400.35 76.72,398.13 78.55,395.92 80.37,393.70 82.20,391.49 84.02,389.27 85.84,387.06 87.67,384.84 89.49,382.62 91.32,380.40 93.14,378.18 94.96,375.95 96.79,373.73 98.61,371.50 100.44,369.27 102.26,367.03 104.08,364.80 105.91,362.56 107.73,360.31 109.56,358.07 111.38,355.82 113.20,353.56 115.03,351.30 116.85,349.04 118.68,346.77 120.50,344.50 122.32,342.22 124.15,339.95 125.97,337.67 127.80,335.40 129.62,333.13 131.44,330.88 133.27,328.64 135.09,326.42 136.92,324.23 138.74,322.05 140.56,319.90 142.39,317.78 144.21,315.68 146.04,313.59 147.86,311.52 149.68,309.46 151.51,307.41 153.33,305.37 155.16,303.35 156.98,301.33 158.80,299.30 160.63,297.26 162.45,295.23 164.28,293.19 166.10,291.16 167.92,289.14 169.75,287.12 171.57,285.12 173.40,283.13 175.22,281.15 177.04,279.21 178.87,277.28 180.69,275.40 182.52,273.55 184.34,271.75 186.16,270.00 187.99,268.30 189.81,266.66 191.64,265.08 193.46,263.55 195.28,262.07 197.11,260.64 198.93,259.25 200.76,257.92 202.58,256.63 204.40,255.39 206.23,254.20 208.05,253.06 209.88,251.99 211.70,250.97 213.52,250.02 215.35,249.13 217.17,248.29 219.00,247.50 220.82,246.76 222.64,246.05 224.47,245.38 226.29,244.73 228.12,244.10 229.94,243.50 231.76,242.96 233.59,242.49 235.41,242.10 237.24,241.82 239.06,241.67 240.88,241.64 242.71,241.73 244.53,241.90 246.36,242.12 248.18,242.37" stroke="#f0a030" stroke-width="1.0" fill="none" stroke-linejoin="round"/>
<polyline points="74.90,401.44 76.72,399.17 78.55,396.89 80.37,394.62 82.20,392.35 84.02,390.07 85.84,387.80 87.67,385.53 89.49,383.25 91.32,380.98 93.14,378.70 94.96,376.43 96.79,374.15 98.61,371.87 100.44,369.60 102.26,367.32 104.08,365.04 105.91,362.76 107.73,360.48 109.56,358.20 111.38,355.92 113.20,353.64 115.03,351.36 116.85,349.07 118.68,346.79 120.50,344.50 122.32,342.21 124.15,339.93 125.97,337.65 127.80,335.37 129.62,333.11 131.44,330.86 133.27,328.63 135.09,326.41 136.92,324.22 138.74,322.05 140.56,319.91 142.39,317.79 144.21,315.70 146.04,313.62 147.86,311.57 149.68,309.53 151.51,307.50 153.33,305.47 155.16,303.44 156.98,301.42 158.80,299.40 160.63,297.38 162.45,295.36 164.28,293.35 166.10,291.34 167.92,289.33 169.75,287.32 171.57,285.31 173.40,283.30 175.22,281.29 177.04,279.30 178.87,277.33 180.69,275.41 182.52,273.53 184.34,271.73 186.16,270.00 187.99,268.36 189.81,266.82 191.64,265.35 193.46,263.96 195.28,262.63 197.11,261.36 198.93,260.14 200.76,258.97 202.58,257.83 204.40,256.74 206.23,255.70 208.05,254.72 209.88,253.81 211.70,252.96 213.52,252.18 215.35,251.48 217.17,250.84 219.00,250.28 220.82,249.77 222.64,249.32 224.47,248.92 226.29,248.57 228.12,248.27 229.94,248.00 231.76,247.78 233.59,247.61 235.41,247.50 237.24,247.46 239.06,247.47 240.88,247.56 242.71,247.72 244.53,247.92 246.36,248.15 248.18,248.40" stroke="#d08a18" stroke-width="1.0" fill="none" stroke-linejoin="round"/>
<polyline points="74.90,401.44 76.72,399.17 78.55,396.89 80.37,394.62 82.20,392.35 84.02,390.07 85.84,387.80 87.67,385.53 89.49,383.25 91.32,380.98 93.14,378.70 94.96,376.43 96.79,374.15 98.61,371.87 100.44,369.60 102.26,367.32 104.08,365.04 105.91,362.76 107.73,360.48 109.56,358.20 111.38,355.92 113.20,353.64 115.03,351.36 116.85,349.07 118.68,346.79 120.50,344.50 122.32,342.21 124.15,339.93 125.97,337.65 127.80,335.37 129.62,333.11 131.44,330.86 133.27,328.63 135.09,326.41 136.92,324.22 138.74,322.05 140.56,319.91 142.39,317.79 144.21,315.70 146.04,313.62 147.86,311.57 149.68,309.53 151.51,307.50 153.33,305.49 155.16,303.50 156.98,301.52 158.80,299.54 160.63,297.56 162.45,295.58 164.28,293.61 166.10,291.64 167.92,289.67 169.75,287.70 171.57,285.73 173.40,283.76 175.22,281.79 177.04,279.84 178.87,277.91 180.69,276.03 182.52,274.19 184.34,272.43 186.16,270.74 187.99,269.14 189.81,267.64 191.64,266.21 193.46,264.86 195.28,263.57 197.11,262.34 198.93,261.16 200.76,260.03 202.58,258.93 204.40,257.88 206.23,256.88 208.05,255.94 209.88,255.07 211.70,254.26 213.52,253.52 215.35,252.86 217.17,252.26 219.00,251.74 220.82,251.27 222.64,250.86 224.47,250.50 226.29,250.19 228.12,249.93 229.94,249.70 231.76,249.52 233.59,249.39 235.41,249.32 237.24,249.32 239.06,249.37 240.88,249.50 242.71,249.70 244.53,249.94 246.36,250.21 248.18,250.50" stroke="#d08a18" stroke-width="1.0" fill="none" stroke-linejoin="round"/>
<polyline points="74.90,399.25 76.72,397.09 78.55,394.93 80.37,392.77 82.20,390.61 84.02,388.45 85.84,386.29 87.67,384.12 89.49,381.95 91.32,379.78 93.14,377.61 94.96,375.44 96.79,373.26 98.61,371.08 100.44,368.89 102.26,366.70 104.08,364.50 105.91,362.30 107.73,360.10 109.56,357.89 111.38,355.67 113.20,353.45 115.03,351.22 116.85,348.99 118.68,346.75 120.50,344.50 122.32,342.24 124.15,339.99 125.97,337.73 127.80,335.47 129.62,333.23 131.44,331.00 133.27,328.78 135.09,326.58 136.92,324.41 138.74,322.27 140.56,320.16 142.39,318.08 144.21,316.03 146.04,314.01 147.86,312.01 149.68,310.03 151.51,308.08 153.33,306.14 155.16,304.21 156.98,302.29 158.80,300.38 160.63,298.50 162.45,296.62 164.28,294.75 166.10,292.89 167.92,291.03 169.75,289.18 171.57,287.33 173.40,285.48 175.22,283.63 177.04,281.79 178.87,279.97 180.69,278.17 182.52,276.40 184.34,274.69 186.16,273.02 187.99,271.42 189.81,269.89 191.64,268.43 193.46,267.07 195.28,265.81 197.11,264.65 198.93,263.61 200.76,262.69 202.58,261.90 204.40,261.21 206.23,260.62 208.05,260.10 209.88,259.66 211.70,259.27 213.52,258.92 215.35,258.60 217.17,258.32 219.00,258.08 220.82,257.87 222.64,257.72 224.47,257.60 226.29,257.54 228.12,257.53 229.94,257.57 231.76,257.64 233.59,257.76 235.41,257.91 237.24,258.09 239.06,258.30 240.88,258.53 242.71,258.78 244.53,259.04 246.36,259.31 248.18,259.58" stroke="#1a8a1a" stroke-width="1.0" fill="none" stroke-linejoin="round"/>
<polyline points="74.90,399.25 76.72,397.09 78.55,394.93 80.37,392.77 82.20,390.61 84.02,388.45 85.84,386.29 87.67,384.12 89.49,381.95 91.32,379.78 93.14,377.61 94.96,375.44 96.79,373.26 98.61,371.08 100.44,368.89 102.26,366.70 104.08,364.50 105.91,362.30 107.73,360.10 109.56,357.89 111.38,355.67 113.20,353.45 115.03,351.22 116.85,348.99 118.68,346.75 120.50,344.50 122.32,342.24 124.15,339.99 125.97,337.73 127.80,335.47 129.62,333.23 131.44,331.00 133.27,328.78 135.09,326.58 136.92,324.41 138.74,322.27 140.56,320.16 142.39,318.08 144.21,316.03 146.04,314.01 147.86,312.01 149.68,310.03 151.51,308.08 153.33,306.16 155.16,304.27 156.98,302.40 158.80,300.54 160.63,298.69 162.45,296.86 164.28,295.04 166.10,293.22 167.92,291.41 169.75,289.60 171.57,287.79 173.40,285.99 175.22,284.18 177.04,282.38 178.87,280.60 180.69,278.85 182.52,277.13 184.34,275.46 186.16,273.83 187.99,272.28 189.81,270.79 191.64,269.38 193.46,268.06 195.28,266.84 197.11,265.73 198.93,264.73 200.76,263.86 202.58,263.11 204.40,262.46 206.23,261.91 208.05,261.44 209.88,261.04 211.70,260.70 213.52,260.39 215.35,260.12 217.17,259.88 219.00,259.68 220.82,259.52 222.64,259.41 224.47,259.34 226.29,259.32 228.12,259.36 229.94,259.44 231.76,259.56 233.59,259.72 235.41,259.91 237.24,260.14 239.06,260.39 240.88,260.67 242.71,260.96 244.53,261.26 246.36,261.57 248.18,261.89" stroke="#1a8a1a" stroke-width="1.0" fill="none" stroke-linejoin="round"/>
<polyline points="74.90,399.25 76.72,397.09 78.55,394.93 80.37,392.78 82.20,390.62 84.02,388.46 85.84,386.29 87.67,384.13 89.49,381.96 91.32,379.79 93.14,377.62 94.96,375.45 96.79,373.27 98.61,371.09 100.44,368.90 102.26,366.71 104.08,364.52 105.91,362.32 107.73,360.11 109.56,357.90 111.38,355.68 113.20,353.46 115.03,351.23 116.85,348.99 118.68,346.75 120.50,344.50 122.32,342.24 124.15,339.98 125.97,337.72 127.80,335.47 129.62,333.23 131.44,331.01 133.27,328.81 135.09,326.63 136.92,324.49 138.74,322.38 140.56,320.31 142.39,318.29 144.21,316.29 146.04,314.33 147.86,312.40 149.68,310.50 151.51,308.62 153.33,306.75 155.16,304.87 156.98,303.01 158.80,301.16 160.63,299.33 162.45,297.53 164.28,295.75 166.10,294.01 167.92,292.31 169.75,290.65 171.57,289.05 173.40,287.50 175.22,286.01 177.04,284.57 178.87,283.18 180.69,281.82 182.52,280.48 184.34,279.17 186.16,277.87 187.99,276.58 189.81,275.30 191.64,274.05 193.46,272.85 195.28,271.71 197.11,270.65 198.93,269.69 200.76,268.83 202.58,268.10 204.40,267.47 206.23,266.94 208.05,266.50 209.88,266.16 211.70,265.89 213.52,265.71 215.35,265.60 217.17,265.57 219.00,265.63 220.82,265.80 222.64,266.08 224.47,266.45 226.29,266.91 228.12,267.44 229.94,268.03 231.76,268.66 233.59,269.33 235.41,270.00 237.24,270.69 239.06,271.39 240.88,272.09 242.71,272.80 244.53,273.52 246.36,274.23 248.18,274.95" stroke="#30e8f0" stroke-width="1.0" fill="none" stroke-linejoin="round"/>
<polyline points="74.90,399.25 76.72,397.09 78.55,394.93 80.37,392.78 82.20,390.62 84.02,388.46 85.84,386.29 87.67,384.13 89.49,381.96 91.32,379.79 93.14,377.62 94.96,375.45 96.79,373.27 98.61,371.09 100.44,368.90 102.26,366.71 104.08,364.52 105.91,362.32 107.73,360.11 109.56,357.90 111.38,355.68 113.20,353.46 115.03,351.23 116.85,348.99 118.68,346.75 120.50,344.50 122.32,342.24 124.15,339.98 125.97,337.72 127.80,335.47 129.62,333.23 131.44,331.01 133.27,328.81 135.09,326.63 136.92,324.49 138.74,322.38 140.56,320.31 142.39,318.29 144.21,316.29 146.04,314.33 147.86,312.40 149.68,310.50 151.51,308.62 153.33,306.77 155.16,304.93 156.98,303.11 158.80,301.30 160.63,299.51 162.45,297.75 164.28,296.01 166.10,294.31 167.92,292.65 169.75,291.03 171.57,289.47 173.40,287.96 175.22,286.51 177.04,285.11 178.87,283.76 180.69,282.44 182.52,281.14 184.34,279.87 186.16,278.61 187.99,277.36 189.81,276.12 191.64,274.91 193.46,273.75 195.28,272.65 197.11,271.63 198.93,270.71 200.76,269.89 202.58,269.20 204.40,268.61 206.23,268.12 208.05,267.72 209.88,267.42 211.70,267.19 213.52,267.05 215.35,266.98 217.17,266.99 219.00,267.09 220.82,267.30 222.64,267.62 224.47,268.03 226.29,268.53 228.12,269.10 229.94,269.73 231.76,270.40 233.59,271.11 235.41,271.82 237.24,272.55 239.06,273.29 240.88,274.03 242.71,274.78 244.53,275.54 246.36,276.29 248.18,277.05" stroke="#30e8f0" stroke-width="1.0" fill="none" stroke-linejoin="round"/>
<polyline points="74.90,399.25 76.72,397.09 78.55,394.93 80.37,392.78 82.20,390.62 84.02,388.46 85.84,386.29 87.67,384.13 89.49,381.96 91.32,379.79 93.14,377.62 94.96,375.45 96.79,373.27 98.61,371.09 100.44,368.90 102.26,366.71 104.08,364.52 105.91,362.32 107.73,360.11 109.56,357.90 111.38,355.68 113.20,353.46 115.03,351.23 116.85,348.99 118.68,346.75 120.50,344.50 122.32,342.24 124.15,339.98 125.97,337.72 127.80,335.47 129.62,333.23 131.44,331.01 133.27,328.81 135.09,326.63 136.92,324.49 138.74,322.38 140.56,320.31 142.39,318.29 144.21,316.29 146.04,314.33 147.86,312.40 149.68,310.50 151.51,308.62 153.33,306.79 155.16,304.99 156.98,303.21 158.80,301.44 160.63,299.69 162.45,297.97 164.28,296.27 166.10,294.61 167.92,292.99 169.75,291.41 171.57,289.89 173.40,288.42 175.22,287.01 177.04,285.65 178.87,284.34 180.69,283.06 182.52,281.80 184.34,280.57 186.16,279.35 187.99,278.14 189.81,276.94 191.64,275.77 193.46,274.65 195.28,273.59 197.11,272.61 198.93,271.73 200.76,270.95 202.58,270.30 204.40,269.75 206.23,269.30 208.05,268.94 209.88,268.68 211.70,268.49 213.52,268.39 215.35,268.36 217.17,268.41 219.00,268.55 220.82,268.80 222.64,269.16 224.47,269.61 226.29,270.15 228.12,270.76 229.94,271.43 231.76,272.14 233.59,272.89 235.41,273.64 237.24,274.41 239.06,275.19 240.88,275.97 242.71,276.76 244.53,277.56 246.36,278.35 248.18,279.15" stroke="#30e8f0" stroke-width="1.0" fill="none" stroke-linejoin="round"/>
<polyline points="74.90,400.35 76.72,398.13 78.55,395.91 80.37,393.69 82.20,391.47 84.02,389.25 85.84,387.02 87.67,384.80 89.49,382.58 91.32,380.35 93.14,378.13 94.96,375.90 96.79,373.67 98.61,371.44 100.44,369.21 102.26,366.98 104.08,364.74 105.91,362.50 107.73,360.26 109.56,358.02 111.38,355.77 113.20,353.52 115.03,351.27 116.85,349.02 118.68,346.76 120.50,344.50 122.32,342.24 124.15,339.97 125.97,337.72 127.80,335.47 129.62,333.24 131.44,331.03 133.27,328.85 135.09,326.69 136.92,324.57 138.74,322.49 140.56,320.45 142.39,318.46 144.21,316.50 146.04,314.58 147.86,312.70 149.68,310.85 151.51,309.04 153.33,307.24 155.16,305.44 156.98,303.68 158.80,301.93 160.63,300.22 162.45,298.53 164.28,296.88 166.10,295.26 167.92,293.68 169.75,292.14 171.57,290.65 173.40,289.20 175.22,287.79 177.04,286.44 178.87,285.14 180.69,283.90 182.52,282.71 184.34,281.59 186.16,280.52 187.99,279.52 189.81,278.59 191.64,277.72 193.46,276.92 195.28,276.21 197.11,275.56 198.93,275.00 200.76,274.52 202.58,274.13 204.40,273.81 206.23,273.57 208.05,273.39 209.88,273.28 211.70,273.23 213.52,273.23 215.35,273.30 217.17,273.44 219.00,273.69 220.82,274.06 222.64,274.56 224.47,275.20 226.29,275.97 228.12,276.85 229.94,277.85 231.76,278.96 233.59,280.16 235.41,281.45 237.24,282.83 239.06,284.27 240.88,285.77 242.71,287.32 244.53,288.90 246.36,290.51 248.18,292.13" stroke="#22a8f8" stroke-width="1.0" fill="none" stroke-linejoin="round"/>
<polyline points="74.90,400.35 76.72,398.13 78.55,395.91 80.37,393.69 82.20,391.47 84.02,389.25 85.84,387.02 87.67,384.80 89.49,382.58 91.32,380.35 93.14,378.13 94.96,375.90 96.79,373.67 98.61,371.44 100.44,369.21 102.26,366.98 104.08,364.74 105.91,362.50 107.73,360.26 109.56,358.02 111.38,355.77 113.20,353.52 115.03,351.27 116.85,349.02 118.68,346.76 120.50,344.50 122.32,342.24 124.15,339.97 125.97,337.72 127.80,335.47 129.62,333.24 131.44,331.03 133.27,328.85 135.09,326.69 136.92,324.57 138.74,322.49 140.56,320.45 142.39,318.46 144.21,316.50 146.04,314.58 147.86,312.70 149.68,310.85 151.51,309.04 153.33,307.25 155.16,305.50 156.98,303.77 158.80,302.06 160.63,300.38 162.45,298.73 164.28,297.12 166.10,295.53 167.92,293.99 169.75,292.49 171.57,291.03 173.40,289.61 175.22,288.24 177.04,286.93 178.87,285.67 180.69,284.46 182.52,283.31 184.34,282.22 186.16,281.19 187.99,280.22 189.81,279.32 191.64,278.49 193.46,277.73 195.28,277.05 197.11,276.45 198.93,275.92 200.76,275.48 202.58,275.12 204.40,274.84 206.23,274.63 208.05,274.49 209.88,274.41 211.70,274.40 213.52,274.44 215.35,274.54 217.17,274.72 219.00,275.00 220.82,275.41 222.64,275.95 224.47,276.62 226.29,277.42 228.12,278.35 229.94,279.38 231.76,280.52 233.59,281.76 235.41,283.09 237.24,284.50 239.06,285.98 240.88,287.52 242.71,289.10 244.53,290.72 246.36,292.37 248.18,294.02" stroke="#22a8f8" stroke-width="1.0" fill="none" stroke-linejoin="round"/>
<polyline points="74.90,400.35 76.72,398.13 78.55,395.91 80.37,393.69 82.20,391.47 84.02,389.25 85.84,387.02 87.67,384.80 89.49,382.58 91.32,380.35 93.14,378.13 94.96,375.90 96.79,373.67 98.61,371.44 100.44,369.21 102.26,366.98 104.08,364.74 105.91,362.50 107.73,360.26 109.56,358.02 111.38,355.77 113.20,353.52 115.03,351.27 116.85,349.02 118.68,346.76 120.50,344.50 122.32,342.24 124.15,339.97 125.97,337.72 127.80,335.47 129.62,333.24 131.44,331.03 133.27,328.85 135.09,326.69 136.92,324.57 138.74,322.49 140.56,320.45 142.39,318.46 144.21,316.50 146.04,314.58 147.86,312.70 149.68,310.85 151.51,309.04 153.33,307.27 155.16,305.55 156.98,303.86 158.80,302.19 160.63,300.54 162.45,298.93 164.28,297.35 166.10,295.80 167.92,294.30 169.75,292.83 171.57,291.40 173.40,290.02 175.22,288.69 177.04,287.42 178.87,286.19 180.69,285.02 182.52,283.90 184.34,282.85 186.16,281.85 187.99,280.92 189.81,280.06 191.64,279.27 193.46,278.54 195.28,277.90 197.11,277.33 198.93,276.84 200.76,276.43 202.58,276.11 204.40,275.86 206.23,275.69 208.05,275.59 209.88,275.55 211.70,275.57 213.52,275.64 215.35,275.78 217.17,276.00 219.00,276.32 220.82,276.76 222.64,277.33 224.47,278.04 226.29,278.88 228.12,279.84 229.94,280.91 231.76,282.09 233.59,283.36 235.41,284.73 237.24,286.17 239.06,287.69 240.88,289.26 242.71,290.89 244.53,292.54 246.36,294.22 248.18,295.91" stroke="#22a8f8" stroke-width="1.0" fill="none" stroke-linejoin="round"/>
<polyline points="74.90,406.92 76.72,404.31 78.55,401.70 80.37,399.10 82.20,396.50 84.02,393.91 85.84,391.32 87.67,388.73 89.49,386.16 91.32,383.59 93.14,381.03 94.96,378.48 96.79,375.95 98.61,373.42 100.44,370.91 102.26,368.42 104.08,365.94 105.91,363.47 107.73,361.03 109.56,358.60 111.38,356.20 113.20,353.81 115.03,351.45 116.85,349.11 118.68,346.79 120.50,344.50 122.32,342.23 124.15,339.99 125.97,337.78 127.80,335.58 129.62,333.41 131.44,331.26 133.27,329.12 135.09,327.01 136.92,324.90 138.74,322.82 140.56,320.75 142.39,318.71 144.21,316.71 146.04,314.76 147.86,312.89 149.68,311.10 151.51,309.41 153.33,307.82 155.16,306.33 156.98,304.98 158.80,303.78 160.63,302.71 162.45,301.74 164.28,300.85 166.10,300.00 167.92,299.18 169.75,298.35 171.57,297.49 173.40,296.62 175.22,295.76 177.04,294.92 178.87,294.12 180.69,293.39 182.52,292.73 184.34,292.14 186.16,291.60 187.99,291.13 189.81,290.72 191.64,290.35 193.46,290.04 195.28,289.76 197.11,289.53 198.93,289.33 200.76,289.17 202.58,289.04 204.40,288.96 206.23,288.95 208.05,289.01 209.88,289.15 211.70,289.40 213.52,289.75 215.35,290.23 217.17,290.84 219.00,291.58 220.82,292.45 222.64,293.43 224.47,294.52 226.29,295.72 228.12,297.02 229.94,298.41 231.76,299.88 233.59,301.40 235.41,302.93 237.24,304.45 239.06,305.96 240.88,307.46 242.71,308.95 244.53,310.43 246.36,311.91 248.18,313.38" stroke="#1a2ee6" stroke-width="1.0" fill="none" stroke-linejoin="round"/>
<polyline points="74.90,406.92 76.72,404.31 78.55,401.70 80.37,399.10 82.20,396.50 84.02,393.91 85.84,391.32 87.67,388.73 89.49,386.16 91.32,383.59 93.14,381.03 94.96,378.48 96.79,375.95 98.61,373.42 100.44,370.91 102.26,368.42 104.08,365.94 105.91,363.47 107.73,361.03 109.56,358.60 111.38,356.20 113.20,353.81 115.03,351.45 116.85,349.11 118.68,346.79 120.50,344.50 122.32,342.23 124.15,339.99 125.97,337.78 127.80,335.58 129.62,333.41 131.44,331.26 133.27,329.12 135.09,327.01 136.92,324.90 138.74,322.82 140.56,320.75 142.39,318.71 144.21,316.71 146.04,314.76 147.86,312.89 149.68,311.10 151.51,309.41 153.33,307.84 155.16,306.39 156.98,305.08 158.80,303.92 160.63,302.89 162.45,301.96 164.28,301.11 166.10,300.30 167.92,299.52 169.75,298.73 171.57,297.91 173.40,297.08 175.22,296.26 177.04,295.46 178.87,294.70 180.69,294.01 182.52,293.39 184.34,292.84 186.16,292.34 187.99,291.91 189.81,291.54 191.64,291.21 193.46,290.94 195.28,290.70 197.11,290.51 198.93,290.35 200.76,290.23 202.58,290.14 204.40,290.10 206.23,290.13 208.05,290.23 209.88,290.41 211.70,290.70 213.52,291.09 215.35,291.61 217.17,292.26 219.00,293.04 220.82,293.95 222.64,294.97 224.47,296.10 226.29,297.34 228.12,298.68 229.94,300.11 231.76,301.62 233.59,303.18 235.41,304.75 237.24,306.31 239.06,307.86 240.88,309.40 242.71,310.93 244.53,312.45 246.36,313.97 248.18,315.48" stroke="#1a2ee6" stroke-width="1.0" fill="none" stroke-linejoin="round"/>
<polyline points="74.90,406.92 76.72,404.31 78.55,401.70 80.37,399.10 82.20,396.50 84.02,393.91 85.84,391.32 87.67,388.73 89.49,386.16 91.32,383.59 93.14,381.03 94.96,378.48 96.79,375.95 98.61,373.42 100.44,370.91 102.26,368.42 104.08,365.94 105.91,363.47 107.73,361.03 109.56,358.60 111.38,356.20 113.20,353.81 115.03,351.45 116.85,349.11 118.68,346.79 120.50,344.50 122.32,342.23 124.15,339.99 125.97,337.78 127.80,335.58 129.62,333.41 131.44,331.26 133.27,329.12 135.09,327.01 136.92,324.90 138.74,322.82 140.56,320.75 142.39,318.71 144.21,316.71 146.04,314.76 147.86,312.89 149.68,311.10 151.51,309.41 153.33,307.86 155.16,306.46 156.98,305.20 158.80,304.10 160.63,303.12 162.45,302.24 164.28,301.43 166.10,300.68 167.92,299.94 169.75,299.20 171.57,298.44 173.40,297.66 175.22,296.88 177.04,296.13 178.87,295.43 180.69,294.79 182.52,294.22 184.34,293.71 186.16,293.27 187.99,292.89 189.81,292.56 191.64,292.29 193.46,292.06 195.28,291.88 197.11,291.73 198.93,291.63 200.76,291.55 202.58,291.51 204.40,291.53 206.23,291.60 208.05,291.75 209.88,291.99 211.70,292.32 213.52,292.77 215.35,293.34 217.17,294.04 219.00,294.87 220.82,295.82 222.64,296.89 224.47,298.08 226.29,299.37 228.12,300.76 229.94,302.24 231.76,303.80 233.59,305.41 235.41,307.03 237.24,308.64 239.06,310.24 240.88,311.82 242.71,313.40 244.53,314.97 246.36,316.54 248.18,318.11" stroke="#1a2ee6" stroke-width="1.0" fill="none" stroke-linejoin="round"/>
<polyline points="74.90,404.73 76.72,402.25 78.55,399.78 80.37,397.31 82.20,394.85 84.02,392.38 85.84,389.92 87.67,387.46 89.49,385.01 91.32,382.56 93.14,380.11 94.96,377.67 96.79,375.24 98.61,372.82 100.44,370.40 102.26,367.99 104.08,365.59 105.91,363.20 107.73,360.82 109.56,358.46 111.38,356.10 113.20,353.75 115.03,351.42 116.85,349.10 118.68,346.79 120.50,344.50 122.32,342.22 124.15,339.98 125.97,337.76 127.80,335.60 129.62,333.49 131.44,331.46 133.27,329.50 135.09,327.64 136.92,325.89 138.74,324.24 140.56,322.72 142.39,321.31 144.21,320.01 146.04,318.79 147.86,317.66 149.68,316.59 151.51,315.57 153.33,314.60 155.16,313.66 156.98,312.75 158.80,311.84 160.63,310.94 162.45,310.06 164.28,309.19 166.10,308.35 167.92,307.52 169.75,306.72 171.57,305.95 173.40,305.21 175.22,304.51 177.04,303.85 178.87,303.24 180.69,302.67 182.52,302.16 184.34,301.70 186.16,301.31 187.99,300.98 189.81,300.72 191.64,300.52 193.46,300.40 195.28,300.36 197.11,300.40 198.93,300.56 200.76,300.83 202.58,301.25 204.40,301.82 206.23,302.54 208.05,303.41 209.88,304.40 211.70,305.51 213.52,306.72 215.35,308.04 217.17,309.43 219.00,310.89 220.82,312.40 222.64,313.92 224.47,315.44 226.29,316.94 228.12,318.39 229.94,319.81 231.76,321.23 233.59,322.68 235.41,324.20 237.24,325.81 239.06,327.57 240.88,329.50 242.71,331.60 244.53,333.82 246.36,336.13 248.18,338.48" stroke="#7a30c8" stroke-width="1.0" fill="none" stroke-linejoin="round"/>
<polyline points="74.90,405.82 76.72,403.25 78.55,400.68 80.37,398.11 82.20,395.54 84.02,392.98 85.84,390.42 87.67,387.88 89.49,385.33 91.32,382.80 93.14,380.28 94.96,377.77 96.79,375.28 98.61,372.79 100.44,370.33 102.26,367.87 104.08,365.44 105.91,363.02 107.73,360.63 109.56,358.25 111.38,355.90 113.20,353.57 115.03,351.26 116.85,348.98 118.68,346.73 120.50,344.50 122.32,342.30 124.15,340.14 125.97,338.03 127.80,335.98 129.62,333.99 131.44,332.07 133.27,330.24 135.09,328.50 136.92,326.86 138.74,325.34 140.56,323.93 142.39,322.63 144.21,321.42 146.04,320.30 147.86,319.24 149.68,318.25 151.51,317.30 153.33,316.38 155.16,315.49 156.98,314.61 158.80,313.72 160.63,312.85 162.45,311.98 164.28,311.15 166.10,310.35 167.92,309.60 169.75,308.91 171.57,308.29 173.40,307.72 175.22,307.23 177.04,306.80 178.87,306.43 180.69,306.12 182.52,305.88 184.34,305.69 186.16,305.56 187.99,305.49 189.81,305.48 191.64,305.52 193.46,305.62 195.28,305.79 197.11,306.01 198.93,306.30 200.76,306.64 202.58,307.05 204.40,307.52 206.23,308.07 208.05,308.70 209.88,309.41 211.70,310.23 213.52,311.16 215.35,312.20 217.17,313.36 219.00,314.63 220.82,315.97 222.64,317.37 224.47,318.80 226.29,320.24 228.12,321.67 229.94,323.07 231.76,324.47 233.59,325.88 235.41,327.30 237.24,328.76 239.06,330.26 240.88,331.82 242.71,333.43 244.53,335.09 246.36,336.78 248.18,338.48" stroke="#7a30c8" stroke-width="1.0" fill="none" stroke-linejoin="round"/>
<polyline points="74.90,406.37 76.72,403.79 78.55,401.21 80.37,398.64 82.20,396.06 84.02,393.50 85.84,390.93 87.67,388.38 89.49,385.83 91.32,383.28 93.14,380.75 94.96,378.23 96.79,375.71 98.61,373.21 100.44,370.73 102.26,368.25 104.08,365.79 105.91,363.35 107.73,360.92 109.56,358.52 111.38,356.13 113.20,353.76 115.03,351.41 116.85,349.08 118.68,346.78 120.50,344.50 122.32,342.25 124.15,340.03 125.97,337.86 127.80,335.74 129.62,333.69 131.44,331.71 133.27,329.83 135.09,328.04 136.92,326.35 138.74,324.79 140.56,323.35 142.39,322.02 144.21,320.80 146.04,319.66 147.86,318.59 149.68,317.58 151.51,316.61 153.33,315.68 155.16,314.76 156.98,313.84 158.80,312.92 160.63,311.99 162.45,311.08 164.28,310.19 166.10,309.35 167.92,308.55 169.75,307.82 171.57,307.16 173.40,306.57 175.22,306.05 177.04,305.59 178.87,305.18 180.69,304.84 182.52,304.54 184.34,304.29 186.16,304.08 187.99,303.90 189.81,303.77 191.64,303.68 193.46,303.64 195.28,303.67 197.11,303.76 198.93,303.93 200.76,304.19 202.58,304.53 204.40,304.98 206.23,305.53 208.05,306.19 209.88,306.96 211.70,307.85 213.52,308.87 215.35,310.01 217.17,311.27 219.00,312.64 220.82,314.09 222.64,315.58 224.47,317.09 226.29,318.58 228.12,320.04 229.94,321.45 231.76,322.85 233.59,324.27 235.41,325.72 237.24,327.24 239.06,328.86 240.88,330.60 242.71,332.47 244.53,334.42 246.36,336.43 248.18,338.48" stroke="#7a30c8" stroke-width="1.0" fill="none" stroke-linejoin="round"/>
<line x1="73.5" y1="277" x2="249" y2="277" stroke="#777" stroke-width="1.1" stroke-dasharray="3,2"/>
<line x1="73.5" y1="302.2" x2="249" y2="302.2" stroke="#222" stroke-width="1.1" stroke-dasharray="3,2"/>
<line x1="464.5" y1="234.5" x2="640.5" y2="234.5" stroke="#000" stroke-width="1"/>
<line x1="464.5" y1="234.5" x2="464.5" y2="409.5" stroke="#000" stroke-width="1"/>
<line x1="640.5" y1="234.5" x2="640.5" y2="409.5" stroke="#000" stroke-width="1"/>
<line x1="464.5" y1="409.5" x2="640.5" y2="409.5" stroke="#000" stroke-width="1"/>
<line x1="458" y1="244.7" x2="464.5" y2="244.7" stroke="#000" stroke-width="1"/>
<line x1="458" y1="296.3" x2="464.5" y2="296.3" stroke="#000" stroke-width="1"/>
<text x="455" y="300.40000000000003" font-size="12" fill="#000" text-anchor="end">0.6</text>
<line x1="458" y1="347.9" x2="464.5" y2="347.9" stroke="#000" stroke-width="1"/>
<text x="455" y="352.0" font-size="12" fill="#000" text-anchor="end">0.3</text>
<line x1="458" y1="399.5" x2="464.5" y2="399.5" stroke="#000" stroke-width="1"/>
<text x="455" y="403.6" font-size="12" fill="#000" text-anchor="end">0.0</text>
<text x="455" y="251.2" font-size="12" fill="#000" text-anchor="end">0.9 x10<tspan dy="-7" font-size="8.5">-3</tspan></text>
<line x1="640.5" y1="243.5" x2="647" y2="243.5" stroke="#000" stroke-width="1"/>
<text x="650.5" y="247.6" font-size="12" fill="#000" text-anchor="start">100</text>
<line x1="640.5" y1="282.5" x2="647" y2="282.5" stroke="#000" stroke-width="1"/>
<text x="650.5" y="286.6" font-size="12" fill="#000" text-anchor="start">90</text>
<line x1="640.5" y1="321.5" x2="647" y2="321.5" stroke="#000" stroke-width="1"/>
<text x="650.5" y="325.6" font-size="12" fill="#000" text-anchor="start">80</text>
<line x1="640.5" y1="360.5" x2="647" y2="360.5" stroke="#000" stroke-width="1"/>
<text x="650.5" y="364.6" font-size="12" fill="#000" text-anchor="start">70</text>
<line x1="640.5" y1="399.5" x2="647" y2="399.5" stroke="#000" stroke-width="1"/>
<text x="650.5" y="403.6" font-size="12" fill="#000" text-anchor="start">60</text>
<line x1="474.5" y1="409.5" x2="474.5" y2="415.5" stroke="#000" stroke-width="1"/>
<text x="474.5" y="430" font-size="12" fill="#000" text-anchor="middle">0</text>
<line x1="500.45" y1="409.5" x2="500.45" y2="415.5" stroke="#000" stroke-width="1"/>
<text x="500.45" y="430" font-size="12" fill="#000" text-anchor="middle">20</text>
<line x1="526.4" y1="409.5" x2="526.4" y2="415.5" stroke="#000" stroke-width="1"/>
<text x="526.4" y="430" font-size="12" fill="#000" text-anchor="middle">40</text>
<line x1="552.35" y1="409.5" x2="552.35" y2="415.5" stroke="#000" stroke-width="1"/>
<text x="552.35" y="430" font-size="12" fill="#000" text-anchor="middle">60</text>
<line x1="578.3" y1="409.5" x2="578.3" y2="415.5" stroke="#000" stroke-width="1"/>
<text x="578.3" y="430" font-size="12" fill="#000" text-anchor="middle">80</text>
<line x1="604.25" y1="409.5" x2="604.25" y2="415.5" stroke="#000" stroke-width="1"/>
<text x="604.25" y="430" font-size="12" fill="#000" text-anchor="middle">100</text>
<line x1="630.2" y1="409.5" x2="630.2" y2="415.5" stroke="#000" stroke-width="1"/>
<text x="630.2" y="430" font-size="12" fill="#000" text-anchor="middle">120</text>
<text x="501.3" y="450.2" font-size="12" fill="#000" text-anchor="start">Net Work [kJ mol<tspan dx="2.5" dy="-8" font-size="8.5">-1</tspan><tspan dy="8">]</tspan></text>
<text x="387" y="235.3" font-size="14.5" fill="#000" text-anchor="start" font-weight="bold">(d)</text>
<text x="426.5" y="366" font-size="12" fill="#000" text-anchor="start" transform="rotate(-90 426.5 366)">Current [A cm<tspan dx="0.5" dy="-8" font-size="8.5">-2</tspan><tspan dy="8">]</tspan></text>
<text x="670.5" y="259" font-size="12" fill="#000" text-anchor="start" transform="rotate(90 670.5 259)">Tafel Slope [mV dec <tspan dy="-8" font-size="8.5">-1</tspan><tspan dy="8">]</tspan></text>
<circle cx="532.4" cy="390.5" r="8.8" fill="#fff" fill-opacity="0" stroke="#000" stroke-width="0.9"/>
<circle cx="550.9" cy="389.7" r="8.8" fill="#fff" fill-opacity="0" stroke="#000" stroke-width="0.9"/>
<circle cx="567.5" cy="361.25" r="8.8" fill="#fff" fill-opacity="0" stroke="#000" stroke-width="0.9"/>
<text x="567.5" y="365.35" font-size="12" fill="#22aaff" text-anchor="middle">9</text>
<circle cx="582" cy="282" r="8.8" fill="#fff" fill-opacity="0" stroke="#000" stroke-width="0.9"/>
<text x="582" y="286.1" font-size="12" fill="#d89020" text-anchor="middle">6</text>
<circle cx="608" cy="250.25" r="8.8" fill="#fff" fill-opacity="0" stroke="#000" stroke-width="0.9"/>
<text x="608" y="254.35" font-size="12" fill="#ff9922" text-anchor="middle">5</text>
<circle cx="500.00" cy="399.30" r="4.4" fill="#2040e0" stroke="#000" stroke-width="1.1"/>
<circle cx="510.00" cy="399.30" r="4.4" fill="#2040e0" stroke="#000" stroke-width="1.1"/>
<circle cx="518.00" cy="399.30" r="4.4" fill="#2040e0" stroke="#000" stroke-width="1.1"/>
<circle cx="526.00" cy="399.30" r="4.4" fill="#2040e0" stroke="#000" stroke-width="1.1"/>
<circle cx="531.00" cy="399.30" r="4.4" fill="#2040e0" stroke="#000" stroke-width="1.1"/>
<circle cx="536.00" cy="399.30" r="4.4" fill="#2040e0" stroke="#000" stroke-width="1.1"/>
<circle cx="541.00" cy="399.30" r="4.4" fill="#2040e0" stroke="#000" stroke-width="1.1"/>
<circle cx="550.10" cy="398.50" r="4.4" fill="#30f0e8" stroke="#000" stroke-width="1.1"/>
<circle cx="556.50" cy="398.50" r="4.4" fill="#30f0e8" stroke="#000" stroke-width="1.1"/>
<circle cx="561.40" cy="396.10" r="4.4" fill="#30f0e8" stroke="#000" stroke-width="1.1"/>
<circle cx="565.40" cy="393.70" r="4.4" fill="#30f0e8" stroke="#000" stroke-width="1.1"/>
<circle cx="567.80" cy="390.50" r="4.4" fill="#30f0e8" stroke="#000" stroke-width="1.1"/>
<polyline points="551.20,322.00 551.50,367.00 549.60,391.30 545.30,398.00" stroke="#1e88f0" stroke-width="1.2" fill="none" stroke-linejoin="round"/>
<circle cx="551.20" cy="322.00" r="4.4" fill="#1e88f0" stroke="#000" stroke-width="1.1"/>
<circle cx="551.50" cy="367.00" r="4.4" fill="#1e88f0" stroke="#000" stroke-width="1.1"/>
<circle cx="549.60" cy="391.30" r="4.4" fill="#1e88f0" stroke="#000" stroke-width="1.1"/>
<circle cx="545.30" cy="398.00" r="4.4" fill="#1e88f0" stroke="#000" stroke-width="1.1"/>
<circle cx="540.00" cy="399.30" r="4.4" fill="#1e88f0" stroke="#000" stroke-width="1.1"/>
<polyline points="474.30,399.30 486.40,399.30 497.10,399.30 506.40,399.30 515.10,399.30 522.00,399.30 528.40,399.30 533.20,399.30 537.30,396.10 539.20,379.00 537.00,332.50 535.00,265.50" stroke="#6a10c8" stroke-width="1.2" fill="none" stroke-linejoin="round"/>
<circle cx="474.30" cy="399.30" r="4.4" fill="#6a10c8" stroke="#000" stroke-width="1.1"/>
<circle cx="486.40" cy="399.30" r="4.4" fill="#6a10c8" stroke="#000" stroke-width="1.1"/>
<circle cx="497.10" cy="399.30" r="4.4" fill="#6a10c8" stroke="#000" stroke-width="1.1"/>
<circle cx="506.40" cy="399.30" r="4.4" fill="#6a10c8" stroke="#000" stroke-width="1.1"/>
<circle cx="515.10" cy="399.30" r="4.4" fill="#6a10c8" stroke="#000" stroke-width="1.1"/>
<circle cx="522.00" cy="399.30" r="4.4" fill="#6a10c8" stroke="#000" stroke-width="1.1"/>
<circle cx="528.40" cy="399.30" r="4.4" fill="#6a10c8" stroke="#000" stroke-width="1.1"/>
<circle cx="533.20" cy="399.30" r="4.4" fill="#6a10c8" stroke="#000" stroke-width="1.1"/>
<circle cx="537.30" cy="396.10" r="4.4" fill="#6a10c8" stroke="#000" stroke-width="1.1"/>
<circle cx="539.20" cy="379.00" r="4.4" fill="#6a10c8" stroke="#000" stroke-width="1.1"/>
<circle cx="537.00" cy="332.50" r="4.4" fill="#6a10c8" stroke="#000" stroke-width="1.1"/>
<circle cx="535.00" cy="265.50" r="4.4" fill="#6a10c8" stroke="#000" stroke-width="1.1"/>
<line x1="590.6" y1="281.5" x2="600.5999999999999" y2="281.5" stroke="#000" stroke-width="2"/>
<polygon points="604.8,281.5 598.8,278.5 599.6999999999999,281.5 598.8,284.5" fill="#000"/>
<line x1="534" y1="275.6" x2="524.6" y2="275.6" stroke="#000" stroke-width="2"/>
<polygon points="520.4,275.6 526.4,272.6 525.5,275.6 526.4,278.6" fill="#000"/>
<text x="512.5" y="268.8" font-size="12" fill="#000" text-anchor="end">pH</text>
<text x="516" y="268.6" font-size="11.5" fill="#7744aa" text-anchor="start">13</text>
<text x="557.5" y="325.4" font-size="11.3" fill="#2255ee" text-anchor="start">11</text>
<text x="522.5" y="382.4" font-size="11.3" fill="#7744aa" text-anchor="start">13</text>
<text x="551.7" y="383.2" font-size="11.3" fill="#2255ee" text-anchor="start">11</text>
</svg>
</body></html>
